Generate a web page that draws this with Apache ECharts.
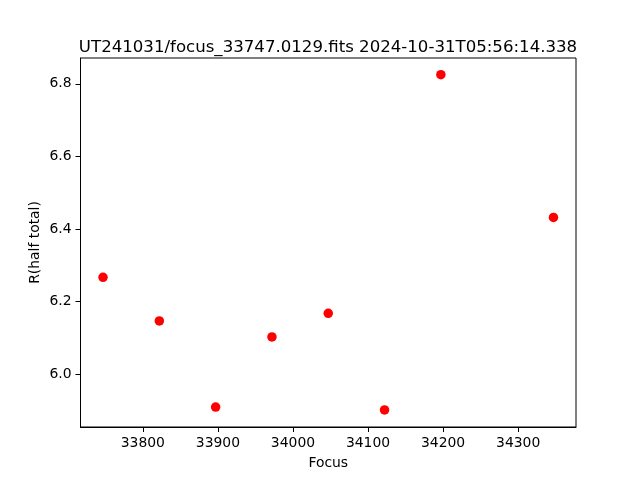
<!DOCTYPE html>
<html>
<head>
<meta charset="utf-8">
<script src="https://cdn.jsdelivr.net/npm/echarts@6/dist/echarts.min.js"></script>
<style>html,body{margin:0;padding:0;background:#fff}#c{width:640px;height:480px}</style>
</head>
<body>
<div id="c"></div>
<script>
const focusValues = [33747, 33822, 33897, 33972, 34047, 34122, 34197, 34347];
const rHalfTotal = [6.267, 6.147, 5.910, 6.103, 6.168, 5.902, 6.825, 6.432];
const xTicks = [33800, 33900, 34000, 34100, 34200, 34300];
const yTicks = [6.0, 6.2, 6.4, 6.6, 6.8];
const titleText = 'UT241031/focus_33747.0129.fits 2024-10-31T05:56:14.338';

const font = 'DejaVu Sans';
const chart = echarts.init(document.getElementById('c'), null, {renderer: 'canvas'});
chart.setOption({
  animation: false,
  backgroundColor: '#fff',
  title: {
    text: titleText, left: 323, top: 34, textAlign: 'center',
    textStyle: {fontFamily: font, fontSize: 16.6, fontWeight: 'normal', color: '#000'}
  },
  grid: {left: 80.5, right: 64, top: 58, bottom: 53, show: true, borderColor: '#000', borderWidth: 1, backgroundColor: 'transparent'},
  xAxis: {
    type: 'value', min: 33717, max: 34377,
    name: 'Focus', nameLocation: 'middle', nameGap: 29, nameMoveOverlap: false,
    nameTextStyle: {fontFamily: font, fontSize: 13.9, color: '#000'},
    axisLine: {show: true, lineStyle: {color: '#000', width: 1}},
    axisTick: {show: true, length: 5, lineStyle: {color: '#000'}, customValues: xTicks},
    axisLabel: {fontFamily: font, fontSize: 13.9, color: '#000', margin: 9, customValues: xTicks, formatter: v => String(v)},
    splitLine: {show: false}
  },
  yAxis: {
    type: 'value', min: 5.855, max: 6.871,
    name: 'R(half total)', nameLocation: 'middle', nameGap: 38, nameMoveOverlap: false,
    nameTextStyle: {fontFamily: font, fontSize: 13.9, color: '#000'},
    axisLine: {show: true, lineStyle: {color: '#000', width: 1}},
    axisTick: {show: true, length: 5, lineStyle: {color: '#000'}, customValues: yTicks},
    axisLabel: {fontFamily: font, fontSize: 13.9, color: '#000', margin: 9, customValues: yTicks, formatter: v => v.toFixed(1)},
    splitLine: {show: false}
  },
  series: [{
    type: 'scatter',
    data: focusValues.map((x, i) => [x, rHalfTotal[i]]),
    symbol: 'circle', symbolSize: 9.5,
    itemStyle: {color: '#ff0000', opacity: 1}
  }]
});
</script>
</body>
</html>
